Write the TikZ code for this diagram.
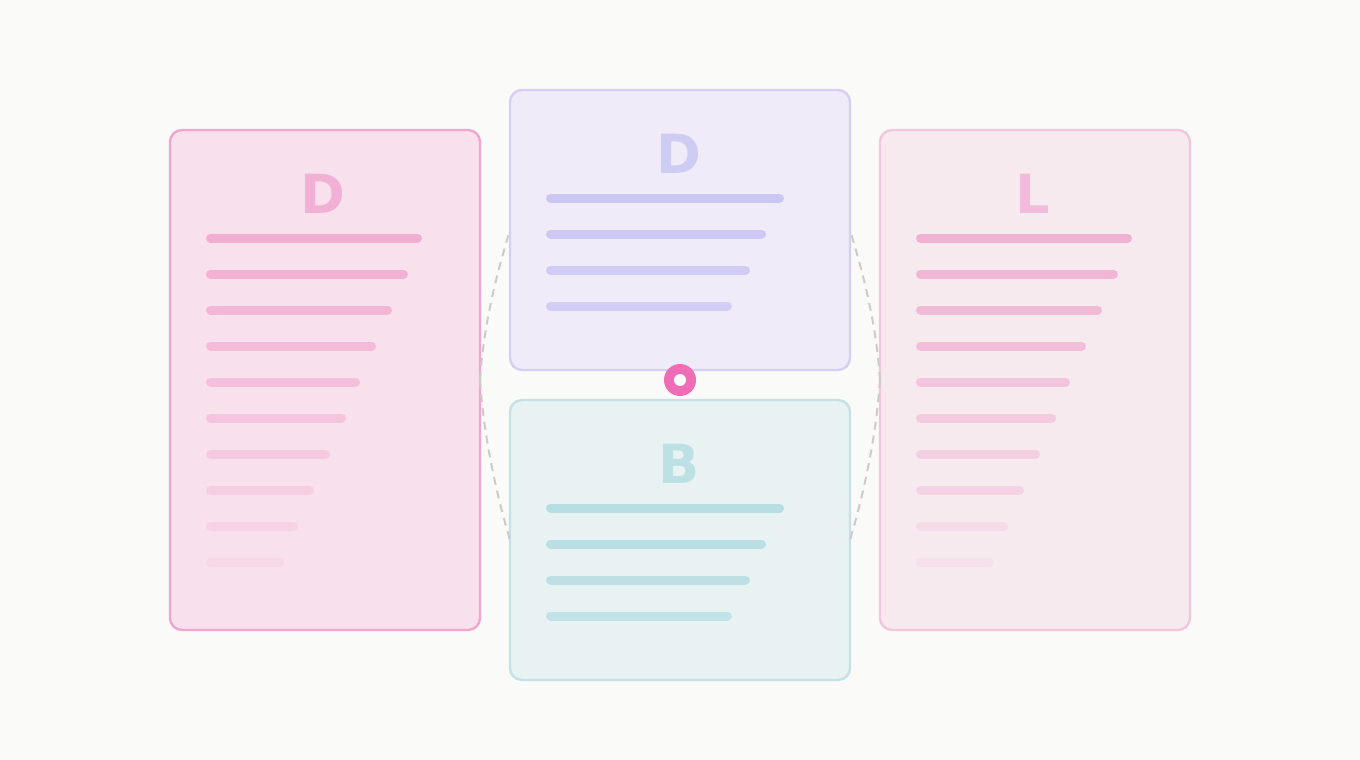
\documentclass[tikz,border=0pt]{standalone}
\usepackage{fontspec}
\newfontfamily\cardfont{DejaVu Sans}
\begin{document}
\begin{tikzpicture}[x=1pt,y=-1pt,
  card/.style={draw, line width=2.4pt, rounded corners=12pt, inner sep=0pt, outer sep=0pt, anchor=north west},
  letter/.style={anchor=base, inner sep=0pt, font=\cardfont\bfseries\fontsize{54}{54}\selectfont},
  bar/.style={line width=9pt, line cap=round},
  conn/.style={draw=dashc, line width=2pt, dash pattern=on 8pt off 6pt}]
\definecolor{bg}{HTML}{FAFAF9}
\definecolor{lfill}{HTML}{F8E1EC}\definecolor{ldraw}{HTML}{F2A5CF}
\definecolor{tfill}{HTML}{EFEBF8}\definecolor{tdraw}{HTML}{D6CFF4}
\definecolor{bfill}{HTML}{E9F2F3}\definecolor{bdraw}{HTML}{C4E2E6}
\definecolor{rfill}{HTML}{F7EAEF}\definecolor{rdraw}{HTML}{F4C6DE}
\definecolor{lbar}{HTML}{F2A6CE}\definecolor{rbar}{HTML}{F0A8CF}
\definecolor{tbar}{HTML}{C8C4F2}\definecolor{bbar}{HTML}{B2DCE2}
\definecolor{lletter}{HTML}{F2B0D7}\definecolor{tletter}{HTML}{CFCCF3}
\definecolor{bletter}{HTML}{BDE0E5}\definecolor{rletter}{HTML}{F2BBDB}
\definecolor{dashc}{HTML}{CFCBC6}\definecolor{hubc}{HTML}{EE6DB4}
\fill[bg] (0,0) rectangle (1360,760);
\useasboundingbox (0,0) rectangle (1360,760);
% cards
\node[card, fill=lfill, draw=ldraw, minimum width=310pt, minimum height=500pt] (L) at (170,130) {};
\node[card, fill=tfill, draw=tdraw, minimum width=340pt, minimum height=280pt] (T) at (510,90) {};
\node[card, fill=bfill, draw=bdraw, minimum width=340pt, minimum height=280pt] (B) at (510,400) {};
\node[card, fill=rfill, draw=rdraw, minimum width=310pt, minimum height=500pt] (R) at (880,130) {};
% connectors
\draw[conn] (L.east) .. controls +(4,-60) and +(-12,40) .. (T.west);
\draw[conn] (L.east) .. controls +(4,60) and +(-12,-40) .. (B.west);
\draw[conn] (R.west) .. controls +(-4,-60) and +(12,40) .. (T.east);
\draw[conn] (R.west) .. controls +(-4,60) and +(12,-40) .. (B.east);
% letters
\node[letter, text=lletter] (Lt) at (323,213) {D};
\node[letter, text=tletter] (Tt) at (679,173) {D};
\node[letter, text=bletter] (Bt) at (679,483) {B};
\node[letter, text=rletter] (Rt) at (1033,213) {L};
% side card bars
\foreach \e/\o [count=\i from 0] in {422/0.85,408/0.8,392/0.72,376/0.64,360/0.56,346/0.48,330/0.4,314/0.32,298/0.24,284/0.14}{
  \draw[bar, draw=lbar, draw opacity=\o] (210.5,238+36*\i) -- (\e-4.5,238+36*\i);
  \draw[bar, draw=rbar, draw opacity=\o] (920.5,238+36*\i) -- (\e+705.5,238+36*\i);
}
% middle card bars
\foreach \e/\o [count=\i from 0] in {784/0.9,766/0.85,750/0.78,732/0.72}{
  \draw[bar, draw=tbar, draw opacity=\o] (550.5,198+36*\i) -- (\e-4.5,198+36*\i);
  \draw[bar, draw=bbar, draw opacity=\o] (550.5,508+36*\i) -- (\e-4.5,508+36*\i);
}
% hub
\node[circle, fill=hubc, minimum size=32pt, inner sep=0pt] (hub) at (680,380) {};
\fill[bg] (hub.center) circle (6pt);
\end{tikzpicture}
\end{document}
